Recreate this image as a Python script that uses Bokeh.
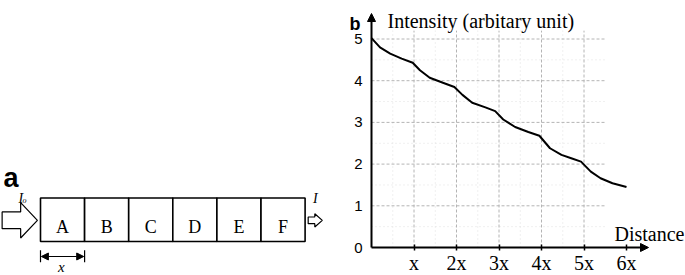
from bokeh.plotting import figure
from bokeh.layouts import row
from bokeh.models import Range1d, FixedTicker, Arrow, NormalHead
from bokeh.core.properties import value
from bokeh.embed import file_html
from bokeh.resources import INLINE

# ---------------- data ----------------
CATEGORIES = ["A", "B", "C", "D", "E", "F"]

DISTANCE = [0.0, 0.2, 0.44, 0.71, 0.97, 1.14, 1.37, 1.68, 1.95, 2.14, 2.37, 2.68, 2.91,
            3.1, 3.38, 3.69, 3.95, 4.2, 4.47, 4.7, 4.93, 5.16, 5.39, 5.67, 6.0]
INTENSITY = [5.02, 4.80, 4.65, 4.53, 4.43, 4.25, 4.07, 3.95, 3.85, 3.66, 3.47, 3.36, 3.27,
             3.07, 2.89, 2.77, 2.68, 2.38, 2.22, 2.14, 2.06, 1.82, 1.66, 1.54, 1.45]

X_TICKS = [1, 2, 3, 4, 5, 6]
X_TICK_LABELS = ["x", "2x", "3x", "4x", "5x", "6x"]
Y_TICKS = [0, 1, 2, 3, 4, 5]
Y_MINOR = [0.5, 1.5, 2.5, 3.5, 4.5]
X_MINOR = [0.5, 1.5, 2.5, 3.5, 4.5]

SERIF = value("Liberation Serif")
SANS = value("Liberation Sans")

W, H = 685, 275
WA = 343
WB = W - WA

# ---------------- panel a (diagram) ----------------
U = 44.1  # px per box unit
ax0 = 40      # box left edge in figure px
ay0 = 241     # box bottom in figure px (from top)
pa = figure(width=WA, height=H, output_backend="svg", toolbar_location=None,
            x_range=Range1d(-ax0 / U, (WA - ax0) / U),
            y_range=Range1d(-(H - ay0) / U, ay0 / U),
            min_border=0, outline_line_color=None, background_fill_color="white",
            border_fill_color="white")
pa.axis.visible = False
pa.grid.visible = False

idx = list(range(len(CATEGORIES)))
pa.quad(left=idx, right=[i + 1 for i in idx], bottom=0, top=0.985,
        fill_color="white", line_color="black", line_width=1.6)
pa.text(x=[i + 0.5 for i in idx], y=0.34, text=CATEGORIES, text_font=SERIF,
        text_font_size="18px", text_align="center", text_baseline="alphabetic",
        text_color="black")

# big input arrow (outline)
cy = 0.48
big = dict(x0=-0.87, xb=-0.45, xt=-0.07, sh=0.19, hh=0.40)
pa.patch(x=[big["x0"], big["xb"], big["xb"], big["xt"], big["xb"], big["xb"], big["x0"]],
         y=[cy - big["sh"], cy - big["sh"], cy - big["hh"], cy, cy + big["hh"], cy + big["sh"], cy + big["sh"]],
         fill_color="white", line_color="black", line_width=1.2)
# small output arrow
sm = dict(x0=6.07, xb=6.22, xt=6.39, sh=0.075, hh=0.15)
pa.patch(x=[sm["x0"], sm["xb"], sm["xb"], sm["xt"], sm["xb"], sm["xb"], sm["x0"]],
         y=[cy - sm["sh"], cy - sm["sh"], cy - sm["hh"], cy, cy + sm["hh"], cy + sm["sh"], cy + sm["sh"]],
         fill_color="white", line_color="black", line_width=1.2)

pa.text(x=[-0.50], y=[0.98], text=["I"], text_font=SERIF, text_font_style="italic",
        text_font_size="14px", text_baseline="alphabetic", text_color="black")
pa.text(x=[-0.41], y=[0.93], text=["o"], text_font=SERIF, text_font_style="italic",
        text_font_size="8px", text_baseline="alphabetic", text_color="black")
pa.text(x=[6.18], y=[0.98], text=["I"], text_font=SERIF, text_font_style="italic",
        text_font_size="14px", text_baseline="alphabetic", text_color="black")

# dimension arrow for one box
dy = -0.34
pa.add_layout(Arrow(x_start=0.02, y_start=dy, x_end=0.98, y_end=dy, line_width=1.2,
                    start=NormalHead(size=7, fill_color="black", line_color="black"),
                    end=NormalHead(size=7, fill_color="black", line_color="black")))
pa.segment(x0=[0, 1], y0=-0.2, x1=[0, 1], y1=-0.47, line_color="black", line_width=1.2)
pa.text(x=[0.47], y=[-0.585], text=["x"], text_font=SERIF, text_font_style="italic",
        text_font_size="15px", text_align="center", text_baseline="alphabetic", text_color="black")

pa.text(x=[(3 - ax0) / U], y=[(ay0 - 177) / U], text=["a"], text_font=SANS, text_font_style="bold",
        text_font_size="27px", text_baseline="alphabetic", text_color="black")

# ---------------- panel b (chart) ----------------
PX = 42.5
PY = 41.7
bx0 = 371 - WA   # x = 0 in figure px
by0 = 247        # y = 0 in figure px (from top)
pb = figure(width=WB, height=H, output_backend="svg", toolbar_location=None,
            x_range=Range1d(-bx0 / PX, (WB - bx0) / PX),
            y_range=Range1d(-(H - by0) / PY, by0 / PY),
            min_border=0, outline_line_color=None, background_fill_color="white",
            border_fill_color="white")
pb.grid.visible = False

# grid (dashed, limited extent)
GX_END = 5.5
GY_END = 5.2
pb.segment(x0=0, y0=Y_MINOR, x1=GX_END, y1=Y_MINOR, line_color="#e0e0e0",
           line_width=1, line_dash="1 3")
pb.segment(x0=X_MINOR, y0=0, x1=X_MINOR, y1=GY_END, line_color="#e0e0e0",
           line_width=1, line_dash="1 3")
pb.segment(x0=0, y0=Y_TICKS[1:], x1=GX_END, y1=Y_TICKS[1:], line_color="#b4b4b4",
           line_width=1, line_dash="3 2")
pb.segment(x0=X_TICKS[:-1], y0=0, x1=X_TICKS[:-1], y1=GY_END, line_color="#b4b4b4",
           line_width=1, line_dash="3 2")

pb.line(DISTANCE, INTENSITY, line_color="black", line_width=2)

# axes
xa = pb.xaxis[0]
xa.fixed_location = 0
xa.ticker = FixedTicker(ticks=X_TICKS)
xa.major_label_overrides = {t: l for t, l in zip(X_TICKS, X_TICK_LABELS)}
xa.axis_line_color = None
xa.major_tick_in = 3
xa.major_tick_out = 3
xa.major_tick_line_width = 1.5
xa.major_tick_line_color = "black"
xa.minor_tick_line_color = None
xa.major_label_standoff = 1
xa.major_label_text_font = "Liberation Serif"
xa.major_label_text_font_size = "20px"
xa.major_label_text_color = "black"

ya = pb.yaxis[0]
ya.fixed_location = 0
ya.ticker = FixedTicker(ticks=Y_TICKS)
ya.axis_line_color = None
ya.major_tick_in = 0
ya.major_tick_out = 0
ya.minor_tick_line_color = None
ya.major_label_standoff = 9
ya.major_label_text_font = "Liberation Sans"
ya.major_label_text_font_size = "15px"
ya.major_label_text_color = "black"

pb.add_layout(Arrow(x_start=0, y_start=0, x_end=0, y_end=(by0 - 13) / PY, line_width=2,
                    end=NormalHead(size=8, fill_color="black", line_color="black")))
pb.add_layout(Arrow(x_start=0, y_start=0, x_end=(648 - 371) / PX, y_end=0, line_width=2,
                    end=NormalHead(size=8, fill_color="black", line_color="black")))

pb.text(x=[(387 - 371) / PX], y=[(by0 - 20) / PY], text=["Intensity (arbitary unit)"],
        text_font=SERIF, text_font_size="20px", text_baseline="alphabetic", text_color="black")
pb.text(x=[(684 - 371) / PX], y=[(by0 - 233) / PY], text=["Distance"],
        text_font=SERIF, text_font_size="20px", text_align="right",
        text_baseline="alphabetic", text_color="black")
pb.text(x=[(349 - 371) / PX], y=[(by0 - 23) / PY], text=["b"],
        text_font=SANS, text_font_style="bold", text_font_size="18px",
        text_baseline="alphabetic", text_color="black")

layout = row(pa, pb, spacing=0)
open("out.html", "w").write(file_html(layout, INLINE))
